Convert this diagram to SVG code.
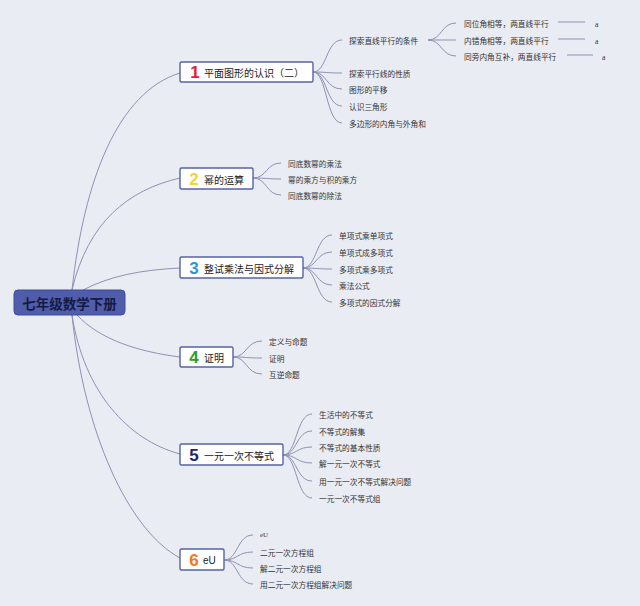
<svg xmlns="http://www.w3.org/2000/svg" width="640" height="606" viewBox="0 0 640 606">
<style>
.bg{fill:#e9ecf3}
.c{fill:none;stroke:#8d92b4;stroke-width:1}
.box{fill:#ffffff;stroke:#5563a6;stroke-width:1.4}
.lt{font-family:"Noto Sans CJK SC","Liberation Sans",sans-serif;font-size:10px;fill:#222;dominant-baseline:central}
.num{font-family:"Liberation Sans","DejaVu Sans",sans-serif;font-size:17px;font-weight:bold;dominant-baseline:central;text-anchor:middle}
.sub{font-family:"Noto Sans CJK SC","Liberation Sans",sans-serif;font-size:7.7px;fill:#333;dominant-baseline:central}
.root{font-family:"Noto Sans CJK SC","Liberation Sans",sans-serif;font-size:13.5px;font-weight:bold;fill:#161b45;dominant-baseline:central;text-anchor:middle}
</style>
<rect class="bg" x="0" y="0" width="640" height="606"/>
<g id="connectors">
<path class="c" d="M72,290 C84,180 118,92 180,73"/>
<path class="c" d="M72,290 C88,222 128,190 180,178"/>
<path class="c" d="M83,290 C110,276 140,270 180,268"/>
<path class="c" d="M77,315 C100,340 140,352 180,357"/>
<path class="c" d="M72,315 C84,392 128,440 180,454"/>
<path class="c" d="M72,315 C84,432 128,530 180,558"/>
<!-- node 1 fan -->
<path class="c" d="M313,72 C327,72 326,40 342,40"/>
<path class="c" d="M313,72 C327,72 326,73 342,73"/>
<path class="c" d="M313,72 C327,72 326,89 342,89"/>
<path class="c" d="M313,72 C327,72 326,106 342,106"/>
<path class="c" d="M313,72 C327,72 326,123 342,123"/>
<!-- level 3 fan -->
<path class="c" d="M428,40 C442,40 441,23 456,23"/>
<path class="c" d="M428,40 C442,40 441,40 456,40"/>
<path class="c" d="M428,40 C442,40 441,56 456,56"/>
<line class="c" x1="558" y1="22" x2="585" y2="22"/>
<line class="c" x1="558" y1="39" x2="585" y2="39"/>
<line class="c" x1="567" y1="55" x2="593" y2="55"/>
<!-- node 2 fan -->
<path class="c" d="M253,178 C267,178 266,163 281,163"/>
<path class="c" d="M253,178 C267,178 266,179 281,179"/>
<path class="c" d="M253,178 C267,178 266,195 281,195"/>
<!-- node 3 fan -->
<path class="c" d="M303,268 C317,268 316,235 332,235"/>
<path class="c" d="M303,268 C317,268 316,252 332,252"/>
<path class="c" d="M303,268 C317,268 316,269 332,269"/>
<path class="c" d="M303,268 C317,268 316,285 332,285"/>
<path class="c" d="M303,268 C317,268 316,302 332,302"/>
<!-- node 4 fan -->
<path class="c" d="M233,357 C247,357 246,341 262,341"/>
<path class="c" d="M233,357 C247,357 246,358 262,358"/>
<path class="c" d="M233,357 C247,357 246,374 262,374"/>
<!-- node 5 fan -->
<path class="c" d="M283,455 C297,455 296,414 312,414"/>
<path class="c" d="M283,455 C297,455 296,431 312,431"/>
<path class="c" d="M283,455 C297,455 296,447 312,447"/>
<path class="c" d="M283,455 C297,455 296,463 312,463"/>
<path class="c" d="M283,455 C297,455 296,481 312,481"/>
<path class="c" d="M283,455 C297,455 296,498 312,498"/>
<!-- node 6 fan -->
<path class="c" d="M224,560 C238,560 237,535 253,535"/>
<path class="c" d="M224,560 C238,560 237,552 253,552"/>
<path class="c" d="M224,560 C238,560 237,568 253,568"/>
<path class="c" d="M224,560 C238,560 237,584 253,584"/>
</g>
<g id="root">
<rect x="14" y="290" width="111" height="25" rx="4" fill="#4f5dab" stroke="#3f4c98" stroke-width="1"/>
<text class="root" x="69.5" y="303">七年级数学下册</text>
</g>
<g id="n1">
<rect class="box" x="180" y="62" width="133" height="20" rx="1.5"/>
<text class="num" x="195" y="72.5" fill="#e0203a">1</text>
<text class="lt" x="204" y="72.5">平面图形的认识（二）</text>
</g>
<g id="n1a"><text class="sub" x="349" y="40">探索直线平行的条件</text></g>
<g id="n1a1"><text class="sub" x="464" y="23">同位角相等，两直线平行</text><text class="sub" x="595" y="24" style="font-family:'Liberation Serif',serif">a</text></g>
<g id="n1a2"><text class="sub" x="464" y="40">内错角相等，两直线平行</text><text class="sub" x="595" y="41" style="font-family:'Liberation Serif',serif">a</text></g>
<g id="n1a3"><text class="sub" x="464" y="56">同旁内角互补，两直线平行</text><text class="sub" x="602" y="57" style="font-family:'Liberation Serif',serif">a</text></g>
<g id="n1b"><text class="sub" x="349" y="73">探索平行线的性质</text></g>
<g id="n1c"><text class="sub" x="349" y="89">图形的平移</text></g>
<g id="n1d"><text class="sub" x="349" y="106">认识三角形</text></g>
<g id="n1e"><text class="sub" x="349" y="123">多边形的内角与外角和</text></g>
<g id="n2">
<rect class="box" x="180" y="168" width="73" height="21" rx="1.5"/>
<text class="num" x="194" y="179" fill="#f2d33a">2</text>
<text class="lt" x="204" y="179">幂的运算</text>
</g>
<g id="n2a"><text class="sub" x="288" y="163">同底数幂的乘法</text></g>
<g id="n2b"><text class="sub" x="288" y="179">幂的乘方与积的乘方</text></g>
<g id="n2c"><text class="sub" x="288" y="195">同底数幂的除法</text></g>
<g id="n3">
<rect class="box" x="180" y="257" width="123" height="21" rx="1.5"/>
<text class="num" x="194" y="268" fill="#2b96d8">3</text>
<text class="lt" x="204" y="268">整试乘法与因式分解</text>
</g>
<g id="n3a"><text class="sub" x="339" y="235">单项式乘单项式</text></g>
<g id="n3b"><text class="sub" x="339" y="252">单项式成多项式</text></g>
<g id="n3c"><text class="sub" x="339" y="269">多项式乘多项式</text></g>
<g id="n3d"><text class="sub" x="339" y="285">乘法公式</text></g>
<g id="n3e"><text class="sub" x="339" y="302">多项式的因式分解</text></g>
<g id="n4">
<rect class="box" x="180" y="347" width="53" height="20" rx="1.5"/>
<text class="num" x="194" y="357.5" fill="#2ba02c">4</text>
<text class="lt" x="204" y="357.5">证明</text>
</g>
<g id="n4a"><text class="sub" x="269" y="341">定义与命题</text></g>
<g id="n4b"><text class="sub" x="269" y="358">证明</text></g>
<g id="n4c"><text class="sub" x="269" y="374">互逆命题</text></g>
<g id="n5">
<rect class="box" x="180" y="444" width="103" height="21" rx="1.5"/>
<text class="num" x="194" y="455" fill="#1c2570">5</text>
<text class="lt" x="204" y="455">一元一次不等式</text>
</g>
<g id="n5a"><text class="sub" x="319" y="414">生活中的不等式</text></g>
<g id="n5b"><text class="sub" x="319" y="431">不等式的解集</text></g>
<g id="n5c"><text class="sub" x="319" y="447">不等式的基本性质</text></g>
<g id="n5d"><text class="sub" x="319" y="463">解一元一次不等式</text></g>
<g id="n5e"><text class="sub" x="319" y="481">用一元一次不等式解决问题</text></g>
<g id="n5f"><text class="sub" x="319" y="498">一元一次不等式组</text></g>
<g id="n6">
<rect class="box" x="180" y="549" width="44" height="21" rx="1.5"/>
<text class="num" x="194" y="560" fill="#f07820">6</text>
<text class="lt" x="203" y="560" style="font-family:'Liberation Sans',sans-serif">eU</text>
</g>
<g id="n6a"><text class="sub" x="260" y="535" style="font-family:'Liberation Serif',serif;font-size:7px">eU</text></g>
<g id="n6b"><text class="sub" x="260" y="552">二元一次方程组</text></g>
<g id="n6c"><text class="sub" x="260" y="568">解二元一次方程组</text></g>
<g id="n6d"><text class="sub" x="260" y="584">用二元一次方程组解决问题</text></g>
</svg>
